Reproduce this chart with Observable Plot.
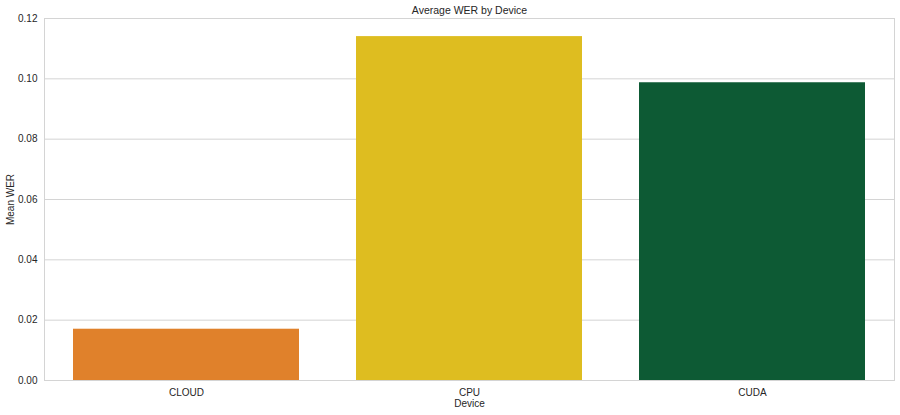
<!DOCTYPE html>
<html>
<head>
<meta charset="utf-8">
<script src="https://cdn.jsdelivr.net/npm/d3@7"></script>
<script src="https://cdn.jsdelivr.net/npm/@observablehq/plot@0.6"></script>
<style>
  html, body { margin: 0; padding: 0; background: #fff; }
  svg { display: block; }
</style>
</head>
<body>
<div id="chart"></div>
<script>
const devices = ["CLOUD", "CPU", "CUDA"];
const meanWER = [0.0170, 0.1140, 0.0987];
const barColors = ["#e0812b", "#debd20", "#0d5a34"];
const yTicks = [0, 0.02, 0.04, 0.06, 0.08, 0.10, 0.12];
const title = "Average WER by Device";

const data = devices.map((d, i) => ({device: d, wer: meanWER[i]}));
const font = "'Liberation Sans', Arial, sans-serif";

const chart = Plot.plot({
  width: 900,
  height: 415,
  marginTop: 18,
  marginBottom: 35,
  marginLeft: 44,
  marginRight: 6,
  style: {fontFamily: font, fontSize: "10px", color: "#262626", background: "#fff"},
  x: {domain: devices, paddingInner: 0.2, paddingOuter: 0.1},
  y: {domain: [0, 0.12]},
  color: {domain: devices, range: barColors},
  marks: [
    Plot.gridY(yTicks, {stroke: "#d4d4d4", strokeOpacity: 1, strokeWidth: 1}),
    Plot.barY(data, {x: "device", y: "wer", fill: "device"}),
    Plot.frame({stroke: "#d4d4d4", strokeWidth: 1}),
    Plot.axisY(yTicks, {
      tickSize: 0, tickPadding: 7, tickFormat: d3.format(".2f"),
      label: "Mean WER", labelAnchor: "center", labelArrow: "none", labelOffset: 38,
      fontSize: 10, fill: "#262626"
    }),
    Plot.axisX({
      tickSize: 0, tickPadding: 8,
      label: "Device", labelAnchor: "center", labelArrow: "none", labelOffset: 26,
      fontSize: 10, fill: "#262626"
    }),
    Plot.text([title], {frameAnchor: "top", dy: -12, fontSize: 10.5, fill: "#262626", text: d => d})
  ]
});
document.getElementById("chart").appendChild(chart);
</script>
</body>
</html>
